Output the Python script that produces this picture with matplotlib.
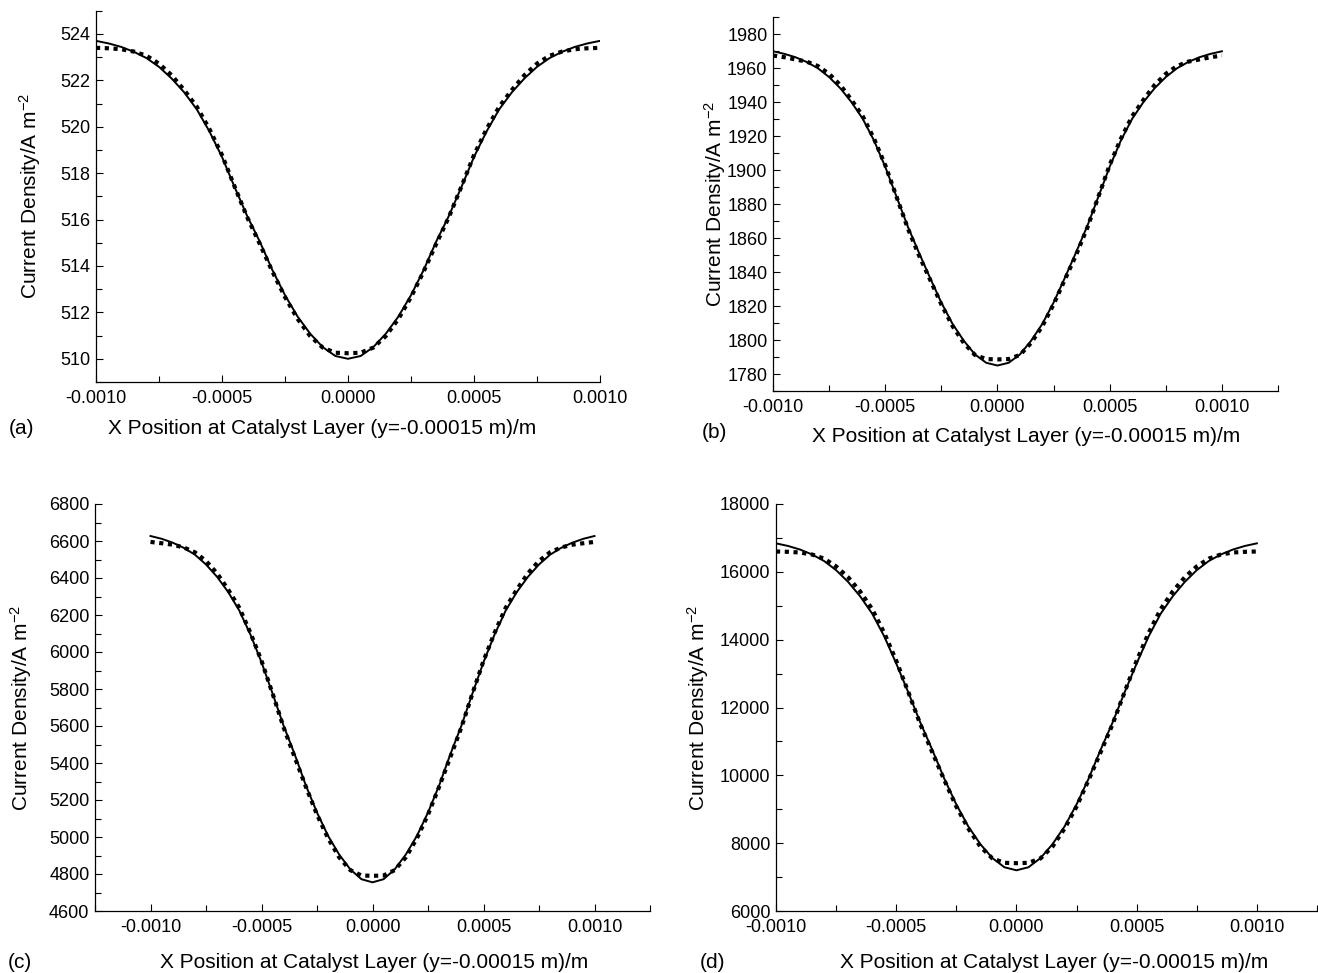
import matplotlib
matplotlib.use("Agg")
import matplotlib.pyplot as plt
from matplotlib.ticker import MultipleLocator, FormatStrFormatter

plt.rcParams["font.family"] = ["Liberation Sans", "DejaVu Sans"]
plt.rcParams["mathtext.default"] = "regular"

W, H = 1318, 973

# x positions along the catalyst layer (m)
X_POS = [-0.00100, -0.00095, -0.00090, -0.00085, -0.00080, -0.00075, -0.00070,
         -0.00065, -0.00060, -0.00055, -0.00050, -0.00045, -0.00040, -0.00035,
         -0.00030, -0.00025, -0.00020, -0.00015, -0.00010, -0.00005, 0.00000,
         0.00005, 0.00010, 0.00015, 0.00020, 0.00025, 0.00030, 0.00035,
         0.00040, 0.00045, 0.00050, 0.00055, 0.00060, 0.00065, 0.00070,
         0.00075, 0.00080, 0.00085, 0.00090, 0.00095, 0.00100]

# (a) current density, A m-2
A_LINE = [523.70, 523.59, 523.44, 523.23, 522.96, 522.58, 522.08, 521.48, 520.75,
          519.80, 518.70, 517.40, 516.15, 515.05, 513.82, 512.74, 511.82, 511.08,
          510.50, 510.12, 510.00, 510.12, 510.50, 511.08, 511.82, 512.74, 513.82,
          515.05, 516.15, 517.40, 518.70, 519.80, 520.75, 521.48, 522.08, 522.58,
          522.96, 523.23, 523.44, 523.59, 523.70]
A_DOTS = [523.40, 523.38, 523.34, 523.24, 523.06, 522.72, 522.22, 521.58, 520.86,
          519.90, 518.78, 517.42, 516.10, 514.95, 513.76, 512.66, 511.72, 510.98,
          510.48, 510.26, 510.24, 510.26, 510.48, 510.98, 511.72, 512.66, 513.76,
          514.95, 516.10, 517.42, 518.78, 519.90, 520.86, 521.58, 522.22, 522.72,
          523.06, 523.24, 523.34, 523.38, 523.40]

# (b)
B_LINE = [1970.0, 1968.5, 1966.5, 1963.7, 1960.0, 1954.8, 1948.2, 1940.0, 1930.2,
          1917.5, 1902.0, 1884.5, 1867.0, 1851.5, 1836.5, 1822.0, 1809.5, 1799.6,
          1791.5, 1786.6, 1785.0, 1786.6, 1791.5, 1799.6, 1809.5, 1822.0, 1836.5,
          1851.5, 1867.0, 1884.5, 1902.0, 1917.5, 1930.2, 1940.0, 1948.2, 1954.8,
          1960.0, 1963.7, 1966.5, 1968.5, 1970.0]
B_DOTS = [1967.5, 1966.5, 1965.2, 1963.9, 1961.3, 1956.7, 1950.1, 1941.3, 1931.7,
          1918.5, 1903.0, 1884.5, 1866.0, 1850.0, 1835.5, 1821.0, 1808.2, 1798.3,
          1791.2, 1788.8, 1788.6, 1788.8, 1791.2, 1798.3, 1808.2, 1821.0, 1835.5,
          1850.0, 1866.0, 1884.5, 1903.0, 1918.5, 1931.7, 1941.3, 1950.1, 1956.7,
          1961.3, 1963.9, 1965.2, 1966.5, 1967.5]

# (c)
C_LINE = [6627, 6612, 6591, 6563, 6526, 6473, 6406, 6324, 6224, 6095, 5945, 5775,
          5600, 5445, 5278, 5132, 5006, 4905, 4825, 4772, 4755, 4772, 4825, 4905,
          5006, 5132, 5278, 5445, 5600, 5775, 5945, 6095, 6224, 6324, 6406, 6473,
          6526, 6563, 6591, 6612, 6627]
C_DOTS = [6595, 6588, 6580, 6565, 6539, 6492, 6425, 6337, 6239, 6104, 5952, 5775,
          5591, 5430, 5271, 5121, 4993, 4890, 4821, 4792, 4790, 4792, 4821, 4890,
          4993, 5121, 5271, 5430, 5591, 5775, 5952, 6104, 6239, 6337, 6425, 6492,
          6539, 6565, 6580, 6588, 6595]

# (d)
D_LINE = [16840, 16763, 16657, 16512, 16319, 16050, 15702, 15278, 14767, 14100,
          13300, 12450, 11560, 10750, 9900, 9140, 8490, 7970, 7560, 7290, 7200,
          7290, 7560, 7970, 8490, 9140, 9900, 10750, 11560, 12450, 13300, 14100,
          14767, 15278, 15702, 16050, 16319, 16512, 16657, 16763, 16840]
D_DOTS = [16600, 16590, 16570, 16510, 16390, 16160, 15840, 15420, 14900, 14200,
          13380, 12460, 11510, 10680, 9860, 9080, 8430, 7900, 7550, 7420, 7410,
          7420, 7550, 7900, 8430, 9080, 9860, 10680, 11510, 12460, 13380, 14200,
          14900, 15420, 15840, 16160, 16390, 16510, 16570, 16590, 16600]

X_TICKS = [-0.0010, -0.0005, 0.0, 0.0005, 0.0010]
XLABEL = "X Position at Catalyst Layer (y=-0.00015 m)/m"
YLABEL = r"Current Density/A m$^{-2}$"

# per panel: letter, series, x limits, y limits, y major / minor step,
# axes box in pixels (left, top, right, bottom), xlabel centre, letter pos, ylabel x
PANELS = [
    dict(tag="(a)", line=A_LINE, dots=A_DOTS, xlim=(-0.001, 0.001), ylim=(509, 525),
         ymaj=2, ymin=1, box=(96, 10.7, 600, 382), xl=(322, 428), tagpos=(22, 428),
         ylx=30),
    dict(tag="(b)", line=B_LINE, dots=B_DOTS, xlim=(-0.001, 0.00125), ylim=(1770, 1990),
         ymaj=20, ymin=10, box=(773, 17.3, 1278, 391), xl=(1026, 436), tagpos=(714, 432),
         ylx=715),
    dict(tag="(c)", line=C_LINE, dots=C_DOTS, xlim=(-0.00125, 0.00125), ylim=(4600, 6800),
         ymaj=200, ymin=100, box=(95, 504, 650, 911), xl=(374, 962), tagpos=(20, 962),
         ylx=21),
    dict(tag="(d)", line=D_LINE, dots=D_DOTS, xlim=(-0.001, 0.00125), ylim=(6000, 18000),
         ymaj=2000, ymin=1000, box=(776, 504, 1317, 911), xl=(1054, 962), tagpos=(713, 962),
         ylx=698),
]

fig = plt.figure(figsize=(W / 100, H / 100), dpi=100)

for p in PANELS:
    l, t, r, b = p["box"]
    ax = fig.add_axes([l / W, 1 - b / H, (r - l) / W, (b - t) / H])
    ax.plot(X_POS, p["line"], color="black", lw=1.4)
    ax.plot(X_POS, p["dots"], color="black", lw=3.0, linestyle=(0, (1, 1.1)),
            dash_capstyle="butt")

    ax.set_xlim(*p["xlim"])
    ax.set_ylim(*p["ylim"])
    ax.set_xticks(X_TICKS)
    ax.xaxis.set_minor_locator(MultipleLocator(0.00025))
    ax.xaxis.set_major_formatter(FormatStrFormatter("%.4f"))
    ax.yaxis.set_major_locator(MultipleLocator(p["ymaj"]))
    ax.yaxis.set_minor_locator(MultipleLocator(p["ymin"]))

    for side in ("top", "right"):
        ax.spines[side].set_visible(False)
    for side in ("left", "bottom"):
        ax.spines[side].set_linewidth(0.9)
    ax.tick_params(which="both", direction="in", width=0.8, labelsize=13)
    ax.tick_params(which="major", length=5)
    ax.tick_params(which="minor", length=4)
    ax.tick_params(axis="x", pad=6)
    ax.tick_params(axis="y", pad=4)

    ax.set_ylabel(YLABEL, fontsize=15, va="center")
    ax.yaxis.set_label_coords((p["ylx"] - l) / (r - l), 0.5)

    fig.text(p["xl"][0] / W, 1 - p["xl"][1] / H, XLABEL, fontsize=15,
             ha="center", va="center")
    fig.text(p["tagpos"][0] / W, 1 - p["tagpos"][1] / H, p["tag"], fontsize=15,
             ha="center", va="center")

fig.savefig("out.png", dpi=100)
